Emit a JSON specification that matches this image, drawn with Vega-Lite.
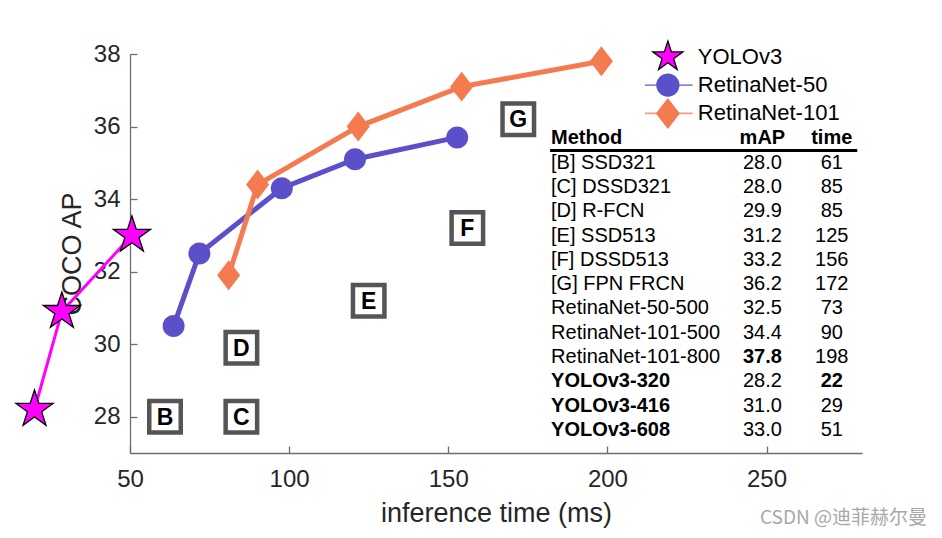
{
  "$schema": "https://vega.github.io/schema/vega-lite/v6.json",
  "width": 732,
  "height": 399,
  "autosize": {"type": "none"},
  "padding": {"left": 130, "top": 54, "right": 80, "bottom": 85},
  "background": "white",
  "config": {
    "view": {"stroke": null},
    "font": "Liberation Sans",
    "axis": {"grid": false, "zindex": 0, "labelFlush": false, "domainColor": "#6e6e6e", "tickColor": "#6e6e6e", "domainWidth": 1.3, "tickWidth": 1.3, "labelColor": "#262626", "titleColor": "#262626", "titleFontWeight": "normal", "labelFont": "Liberation Sans", "titleFont": "Liberation Sans"}
  },
  "title": {"text": "CSDN @迪菲赫尔曼", "orient": "bottom", "anchor": "end", "font": "Noto Sans CJK SC", "fontSize": 19, "fontWeight": "normal", "color": "#a8a8a8", "dx": 65, "offset": -17},
  "datasets": {
    "series": [
      {"model": "YOLOv3", "time": 20, "ap": 28.2},
      {"model": "YOLOv3", "time": 28.6, "ap": 30.9},
      {"model": "YOLOv3", "time": 50.6, "ap": 33.0},
      {"model": "RetinaNet-50", "time": 63.7, "ap": 30.5},
      {"model": "RetinaNet-50", "time": 71.8, "ap": 32.5},
      {"model": "RetinaNet-50", "time": 97.7, "ap": 34.3},
      {"model": "RetinaNet-50", "time": 120.7, "ap": 35.1},
      {"model": "RetinaNet-50", "time": 152.8, "ap": 35.7},
      {"model": "RetinaNet-101", "time": 81.0, "ap": 31.9},
      {"model": "RetinaNet-101", "time": 90.1, "ap": 34.4},
      {"model": "RetinaNet-101", "time": 121.7, "ap": 36.0},
      {"model": "RetinaNet-101", "time": 154.2, "ap": 37.1},
      {"model": "RetinaNet-101", "time": 198.1, "ap": 37.8}
    ],
    "boxes": [
      {"label": "B", "time": 61, "ap": 28.0},
      {"label": "C", "time": 85, "ap": 28.0},
      {"label": "D", "time": 85, "ap": 29.9},
      {"label": "E", "time": 125, "ap": 31.2},
      {"label": "F", "time": 156, "ap": 33.2},
      {"label": "G", "time": 172, "ap": 36.2}
    ],
    "legend": [
      {"entry": "YOLOv3", "idx": 0},
      {"entry": "RetinaNet-50", "idx": 1},
      {"entry": "RetinaNet-101", "idx": 2}
    ],
    "table": [
      {"row": 0, "method": "Method", "map": "mAP", "time": "time", "mb": true, "ab": true, "tb": true},
      {"row": 1, "method": "[B] SSD321", "map": "28.0", "time": "61", "mb": false, "ab": false, "tb": false},
      {"row": 2, "method": "[C] DSSD321", "map": "28.0", "time": "85", "mb": false, "ab": false, "tb": false},
      {"row": 3, "method": "[D] R-FCN", "map": "29.9", "time": "85", "mb": false, "ab": false, "tb": false},
      {"row": 4, "method": "[E] SSD513", "map": "31.2", "time": "125", "mb": false, "ab": false, "tb": false},
      {"row": 5, "method": "[F] DSSD513", "map": "33.2", "time": "156", "mb": false, "ab": false, "tb": false},
      {"row": 6, "method": "[G] FPN FRCN", "map": "36.2", "time": "172", "mb": false, "ab": false, "tb": false},
      {"row": 7, "method": "RetinaNet-50-500", "map": "32.5", "time": "73", "mb": false, "ab": false, "tb": false},
      {"row": 8, "method": "RetinaNet-101-500", "map": "34.4", "time": "90", "mb": false, "ab": false, "tb": false},
      {"row": 9, "method": "RetinaNet-101-800", "map": "37.8", "time": "198", "mb": false, "ab": true, "tb": false},
      {"row": 10, "method": "YOLOv3-320", "map": "28.2", "time": "22", "mb": true, "ab": false, "tb": true},
      {"row": 11, "method": "YOLOv3-416", "map": "31.0", "time": "29", "mb": true, "ab": false, "tb": false},
      {"row": 12, "method": "YOLOv3-608", "map": "33.0", "time": "51", "mb": true, "ab": false, "tb": false}
    ]
  },
  "layer": [
    {
      "layer": [
        {
          "data": {"name": "series"},
          "transform": [{"filter": "datum.model === 'YOLOv3'"}],
          "mark": {"type": "line", "strokeWidth": 3},
          "encoding": {
            "x": {"field": "time", "type": "quantitative", "title": "inference time (ms)", "scale": {"domain": [50, 280], "nice": false, "zero": false},
              "axis": {"values": [50, 100, 150, 200, 250], "tickSize": -7, "labelPadding": 21, "labelFontSize": 24, "titleFontSize": 27, "titlePadding": 9}},
            "y": {"field": "ap", "type": "quantitative", "title": "COCO AP", "scale": {"domain": [27, 38], "nice": false, "zero": false},
              "axis": {"values": [28, 30, 32, 34, 36, 38], "tickSize": -7, "labelPadding": 17, "labelFontSize": 24, "titleFontSize": 27, "titlePadding": 7}},
            "color": {"field": "model", "type": "nominal", "scale": {"domain": ["YOLOv3", "RetinaNet-50", "RetinaNet-101"], "range": ["#ff00ff", "#5b4fca", "#f47a50"]}, "legend": null}
          }
        },
        {
          "data": {"name": "series"},
          "transform": [{"filter": "datum.model !== 'YOLOv3'"}],
          "mark": {"type": "line", "strokeWidth": 5},
          "encoding": {
            "x": {"field": "time", "type": "quantitative", "title": "inference time (ms)"},
            "y": {"field": "ap", "type": "quantitative", "title": "COCO AP"},
            "color": {"field": "model", "type": "nominal", "legend": null}
          }
        },
        {
          "data": {"name": "boxes"},
          "mark": {"type": "square", "size": 992, "fill": "white", "stroke": "#555555", "strokeWidth": 4.5, "opacity": 1},
          "encoding": {
            "x": {"field": "time", "type": "quantitative", "title": "inference time (ms)"},
            "y": {"field": "ap", "type": "quantitative", "title": "COCO AP"}
          }
        },
        {
          "data": {"name": "boxes"},
          "mark": {"type": "text", "fontSize": 23, "fontWeight": "bold", "font": "Liberation Sans", "color": "black", "baseline": "middle", "align": "center", "dy": 1},
          "encoding": {
            "x": {"field": "time", "type": "quantitative", "title": "inference time (ms)"},
            "y": {"field": "ap", "type": "quantitative", "title": "COCO AP"},
            "text": {"field": "label"}
          }
        },
        {
          "data": {"name": "series"},
          "transform": [{"filter": "datum.model !== 'YOLOv3'"}],
          "mark": {"type": "point", "filled": true, "opacity": 1, "size": 484, "strokeWidth": 0},
          "encoding": {
            "x": {"field": "time", "type": "quantitative", "title": "inference time (ms)"},
            "y": {"field": "ap", "type": "quantitative", "title": "COCO AP"},
            "fill": {"field": "model", "type": "nominal", "scale": {"domain": ["YOLOv3", "RetinaNet-50", "RetinaNet-101"], "range": ["#ff00ff", "#5b4fca", "#f47a50"]}, "legend": null},
            "shape": {"field": "model", "type": "nominal",
              "scale": {"domain": ["YOLOv3", "RetinaNet-50", "RetinaNet-101"], "range": ["M0,-1L0.2245,-0.309L0.951,-0.309L0.363,0.118L0.588,0.809L0,0.382L-0.588,0.809L-0.363,0.118L-0.951,-0.309L-0.2245,-0.309Z", "M1,0A1,1,0,1,1,-1,0A1,1,0,1,1,1,0Z", "M0,-1.36L1.05,0L0,1.36L-1.05,0Z"]},
              "legend": null}
          }
        },
        {
          "data": {"name": "series"},
          "transform": [{"filter": "datum.model === 'YOLOv3'"}],
          "mark": {"type": "point", "filled": true, "opacity": 1, "size": 1521, "stroke": "black", "strokeWidth": 1.3},
          "encoding": {
            "x": {"field": "time", "type": "quantitative", "title": "inference time (ms)"},
            "y": {"field": "ap", "type": "quantitative", "title": "COCO AP"},
            "fill": {"field": "model", "type": "nominal", "legend": null},
            "shape": {"field": "model", "type": "nominal", "legend": null}
          }
        }
      ]
    },
    {
      "data": {"name": "table"},
      "layer": [
        {
          "transform": [{"filter": "datum.row === 0"}],
          "mark": {"type": "rule", "color": "black", "strokeWidth": 3},
          "encoding": {
            "x": {"datum": 182, "type": "quantitative", "title": "inference time (ms)"},
            "x2": {"datum": 278.5},
            "y": {"datum": 0.5, "type": "quantitative", "scale": {"domain": [-3.468, 12.945], "reverse": true, "nice": false, "zero": false}, "axis": null}
          }
        },
        {
          "transform": [{"filter": "datum.mb"}],
          "mark": {"type": "text", "align": "left", "baseline": "middle", "fontSize": 20, "fontWeight": "bold", "color": "black"},
          "encoding": {
            "x": {"datum": 182.3, "type": "quantitative", "title": "inference time (ms)"},
            "y": {"field": "row", "type": "quantitative", "axis": null},
            "text": {"field": "method"}
          }
        },
        {
          "transform": [{"filter": "!datum.mb"}],
          "mark": {"type": "text", "align": "left", "baseline": "middle", "fontSize": 20, "fontWeight": "normal", "color": "black"},
          "encoding": {
            "x": {"datum": 182.3, "type": "quantitative", "title": "inference time (ms)"},
            "y": {"field": "row", "type": "quantitative", "axis": null},
            "text": {"field": "method"}
          }
        },
        {
          "transform": [{"filter": "datum.ab"}],
          "mark": {"type": "text", "align": "center", "baseline": "middle", "fontSize": 20, "fontWeight": "bold", "color": "black"},
          "encoding": {
            "x": {"datum": 248.7, "type": "quantitative", "title": "inference time (ms)"},
            "y": {"field": "row", "type": "quantitative", "axis": null},
            "text": {"field": "map"}
          }
        },
        {
          "transform": [{"filter": "!datum.ab"}],
          "mark": {"type": "text", "align": "center", "baseline": "middle", "fontSize": 20, "fontWeight": "normal", "color": "black"},
          "encoding": {
            "x": {"datum": 248.7, "type": "quantitative", "title": "inference time (ms)"},
            "y": {"field": "row", "type": "quantitative", "axis": null},
            "text": {"field": "map"}
          }
        },
        {
          "transform": [{"filter": "datum.tb"}],
          "mark": {"type": "text", "align": "center", "baseline": "middle", "fontSize": 20, "fontWeight": "bold", "color": "black"},
          "encoding": {
            "x": {"datum": 270.5, "type": "quantitative", "title": "inference time (ms)"},
            "y": {"field": "row", "type": "quantitative", "axis": null},
            "text": {"field": "time"}
          }
        },
        {
          "transform": [{"filter": "!datum.tb"}],
          "mark": {"type": "text", "align": "center", "baseline": "middle", "fontSize": 20, "fontWeight": "normal", "color": "black"},
          "encoding": {
            "x": {"datum": 270.5, "type": "quantitative", "title": "inference time (ms)"},
            "y": {"field": "row", "type": "quantitative", "axis": null},
            "text": {"field": "time"}
          }
        }
      ]
    },
    {
      "data": {"name": "legend"},
      "layer": [
        {
          "transform": [{"filter": "datum.entry === 'RetinaNet-50'"}],
          "mark": {"type": "rule", "color": "#8c84e0", "strokeWidth": 1.6},
          "encoding": {
            "x": {"datum": 211.8, "type": "quantitative", "title": "inference time (ms)"},
            "x2": {"datum": 226.8},
            "y": {"field": "idx", "type": "quantitative", "scale": {"domain": [-0.099, 14.0], "reverse": true, "nice": false, "zero": false}, "axis": null}
          }
        },
        {
          "transform": [{"filter": "datum.entry === 'RetinaNet-101'"}],
          "mark": {"type": "rule", "color": "#f79c7f", "strokeWidth": 1.6},
          "encoding": {
            "x": {"datum": 211.8, "type": "quantitative", "title": "inference time (ms)"},
            "x2": {"datum": 226.8},
            "y": {"field": "idx", "type": "quantitative", "axis": null}
          }
        },
        {
          "transform": [{"filter": "datum.entry === 'YOLOv3'"}],
          "mark": {"type": "point", "filled": true, "opacity": 1, "size": 1000, "fill": "#ff00ff", "stroke": "black", "strokeWidth": 1.3,
            "shape": "M0,-1L0.2245,-0.309L0.951,-0.309L0.363,0.118L0.588,0.809L0,0.382L-0.588,0.809L-0.363,0.118L-0.951,-0.309L-0.2245,-0.309Z"},
          "encoding": {
            "x": {"datum": 219.0, "type": "quantitative", "title": "inference time (ms)"},
            "y": {"field": "idx", "type": "quantitative", "axis": null}
          }
        },
        {
          "transform": [{"filter": "datum.entry === 'RetinaNet-50'"}],
          "mark": {"type": "point", "filled": true, "opacity": 1, "size": 543, "fill": "#5b4fca", "strokeWidth": 0,
            "shape": "M1,0A1,1,0,1,1,-1,0A1,1,0,1,1,1,0Z"},
          "encoding": {
            "x": {"datum": 219.0, "type": "quantitative", "title": "inference time (ms)"},
            "y": {"field": "idx", "type": "quantitative", "axis": null}
          }
        },
        {
          "transform": [{"filter": "datum.entry === 'RetinaNet-101'"}],
          "mark": {"type": "point", "filled": true, "opacity": 1, "size": 520, "fill": "#f47a50", "strokeWidth": 0,
            "shape": "M0,-1.36L1.05,0L0,1.36L-1.05,0Z"},
          "encoding": {
            "x": {"datum": 219.0, "type": "quantitative", "title": "inference time (ms)"},
            "y": {"field": "idx", "type": "quantitative", "axis": null}
          }
        },
        {
          "mark": {"type": "text", "align": "left", "baseline": "middle", "fontSize": 22, "color": "black"},
          "encoding": {
            "x": {"datum": 228.4, "type": "quantitative", "title": "inference time (ms)"},
            "y": {"field": "idx", "type": "quantitative", "axis": null},
            "text": {"field": "entry"}
          }
        }
      ]
    }
  ],
  "resolve": {"scale": {"y": "independent"}}
}
